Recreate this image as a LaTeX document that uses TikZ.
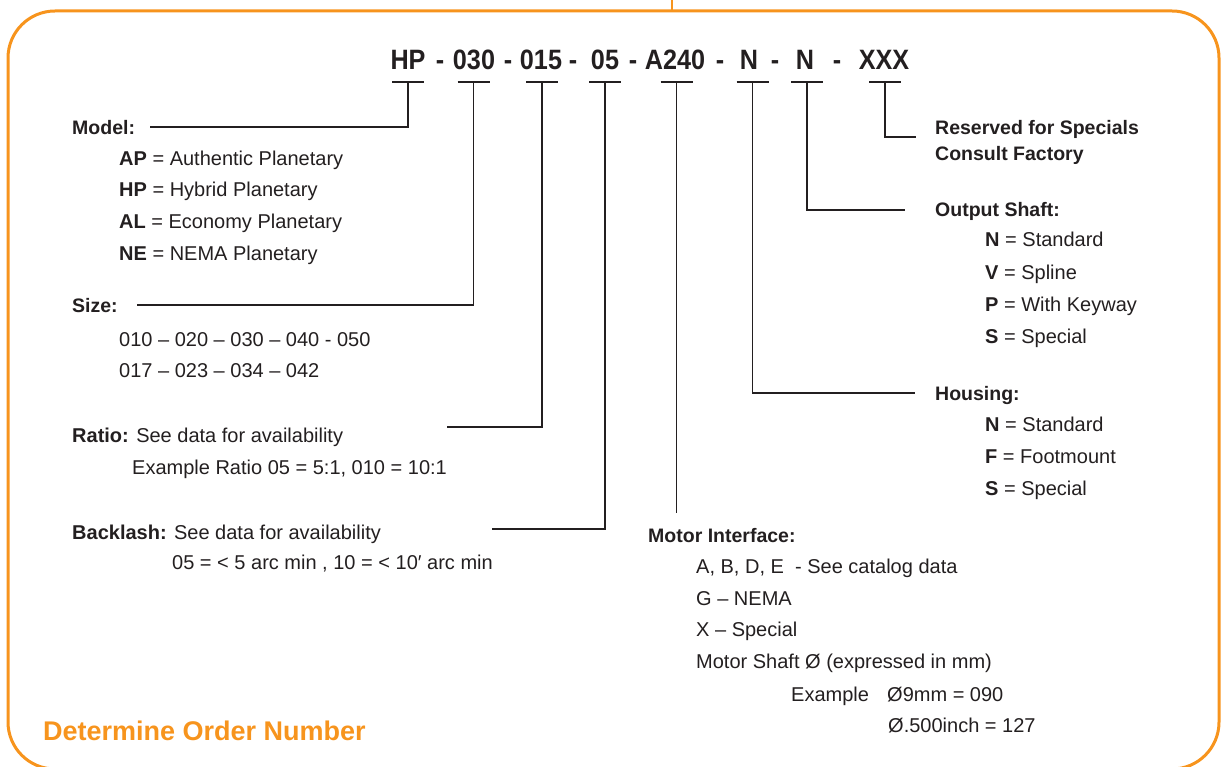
\documentclass[tikz,border=0pt]{standalone}
\usepackage{fontspec}
\setmainfont{Liberation Sans}
\newfontfamily\codefont{Liberation Sans}[FakeStretch=0.9]
\usetikzlibrary{calc}
\definecolor{frameorange}{HTML}{F7941D}
\definecolor{ink}{HTML}{231F20}

\begin{document}
\begin{tikzpicture}[x=1pt,y=-1pt,
  frame/.style={draw=frameorange, line width=3pt},
  feedline/.style={draw=frameorange, line width=2.5pt},
  bar/.style={draw=ink, line width=2pt},
  lead/.style={draw=ink, line width=1.4pt},
  code/.style={font=\codefont\bfseries\fontsize{28}{28}\selectfont, text=ink, anchor=base, inner sep=0pt},
  body/.style={font=\fontsize{20}{20}\selectfont, text=ink, anchor=base west, inner sep=0pt},
  head/.style={body, font=\fontsize{19.5}{19.5}\selectfont\bfseries},
  title/.style={font=\fontsize{27}{27}\selectfont\bfseries, text=frameorange, anchor=base west, inner sep=0pt}]

\useasboundingbox (0,0) rectangle (1222,767);

% outer frame and feed line
\draw[frame, rounded corners=47pt] (8,11) rectangle (1219,769);
\coordinate (feedtop) at (672,0);
\coordinate (feedbot) at (672,11);
\draw[feedline] (feedtop) -- (feedbot);

% order code
\node[code] (cHP)  at (408,70) {HP};
\node[code] (d1)   at (440,70) {-};
\node[code] (cSz)  at (474,70) {030};
\node[code] (d2)   at (508,70) {-};
\node[code] (cRt)  at (541,70) {015};
\node[code] (d3)   at (573,70) {-};
\node[code] (cBl)  at (605,70) {05};
\node[code] (d4)   at (633,70) {-};
\node[code] (cMi)  at (675,70) {A240};
\node[code] (d5)   at (720,70) {-};
\node[code] (cHs)  at (749,70) {N};
\node[code] (d6)   at (775,70) {-};
\node[code] (cOs)  at (805,70) {N};
\node[code] (d7)   at (837,70) {-};
\node[code] (cX)   at (884,70) {XXX};

% bar centres under each field
\coordinate (bHP) at (408,82);
\coordinate (bSz) at (473.5,82);
\coordinate (bRt) at (542,82);
\coordinate (bBl) at (605,82);
\coordinate (bMi) at (676.5,82);
\coordinate (bHs) at (752.5,82);
\coordinate (bOs) at (807,82);
\coordinate (bX)  at (885,82);
\foreach \b in {bHP,bSz,bRt,bBl,bMi,bHs,bOs,bX}
  \draw[bar] ($(\b)+(-16,0)$) -- ($(\b)+(16,0)$);

% leader ends
\coordinate (eModel) at (150,127);
\coordinate (eSize)  at (137,305);
\coordinate (eRatio) at (447,427);
\coordinate (eBack)  at (492,529);
\coordinate (eMotor) at (676.5,513);
\coordinate (eHous)  at (915,393);
\coordinate (eOut)   at (905,210);
\coordinate (eRes)   at (916,137);

\draw[lead] (bHP) |- (eModel);
\draw[lead] (bSz) |- (eSize);
\draw[lead] (bRt) |- (eRatio);
\draw[lead] (bBl) |- (eBack);
\draw[lead] (bMi) -- (eMotor);
\draw[lead] (bHs) |- (eHous);
\draw[lead] (bOs) |- (eOut);
\draw[lead] (bX)  |- (eRes);

% model
\node[head] (model) at (72,135) {Model:};
\node[body] (m1) at (119,166) {\textbf{AP} = Authentic Planetary};
\node[body] (m2) at (119,197) {\textbf{HP} = Hybrid Planetary};
\node[body] (m3) at (119,229) {\textbf{AL} = Economy Planetary};
\node[body] (m4) at (119,260) {\textbf{NE} = NEMA Planetary};

% size
\node[head] (size) at (72,312) {Size:};
\node[body] (s1) at (119,346) {010 – 020 – 030 – 040 - 050};
\node[body] (s2) at (119,377) {017 – 023 – 034 – 042};

% ratio
\node[body] (ratio) at (72,442) {\textbf{Ratio:} See data for availability};
\node[body] (r1) at (132,474) {Example Ratio 05 = 5:1, 010 = 10:1};

% backlash
\node[body] (back) at (72,539) {\textbf{Backlash:} See data for availability};
\node[body] (k1) at (172,569) {05 = < 5 arc min , 10 = < 10′ arc min};

% motor interface
\node[head] (motor) at (648,542) {Motor Interface:};
\node[body] (mi1) at (696,573) {A, B, D, E\ \ - See catalog data};
\node[body] (mi2) at (696,605) {G – NEMA};
\node[body] (mi3) at (696,636) {X – Special};
\node[body] (mi4) at (696,668) {Motor Shaft Ø (expressed in mm)};
\node[body] (mi5) at (791,701) {Example};
\node[body] (mi6) at (887,701) {Ø9mm = 090};
\node[body] (mi7) at (888,732) {Ø.500inch = 127};

% reserved
\node[head] (res1) at (935,135) {Reserved for Specials};
\node[head] (res2) at (935,161) {Consult Factory};

% output shaft
\node[head] (out) at (935,217) {Output Shaft:};
\node[body] (o1) at (985,247) {\textbf{N} = Standard};
\node[body] (o2) at (985,279) {\textbf{V} = Spline};
\node[body] (o3) at (985,311) {\textbf{P} = With Keyway};
\node[body] (o4) at (985,343) {\textbf{S} = Special};

% housing
\node[head] (hous) at (935,400) {Housing:};
\node[body] (h1) at (985,431) {\textbf{N} = Standard};
\node[body] (h2) at (985,463) {\textbf{F} = Footmount};
\node[body] (h3) at (985,495) {\textbf{S} = Special};

% title
\node[title] (title) at (43,740) {Determine Order Number};
\end{tikzpicture}
\end{document}
